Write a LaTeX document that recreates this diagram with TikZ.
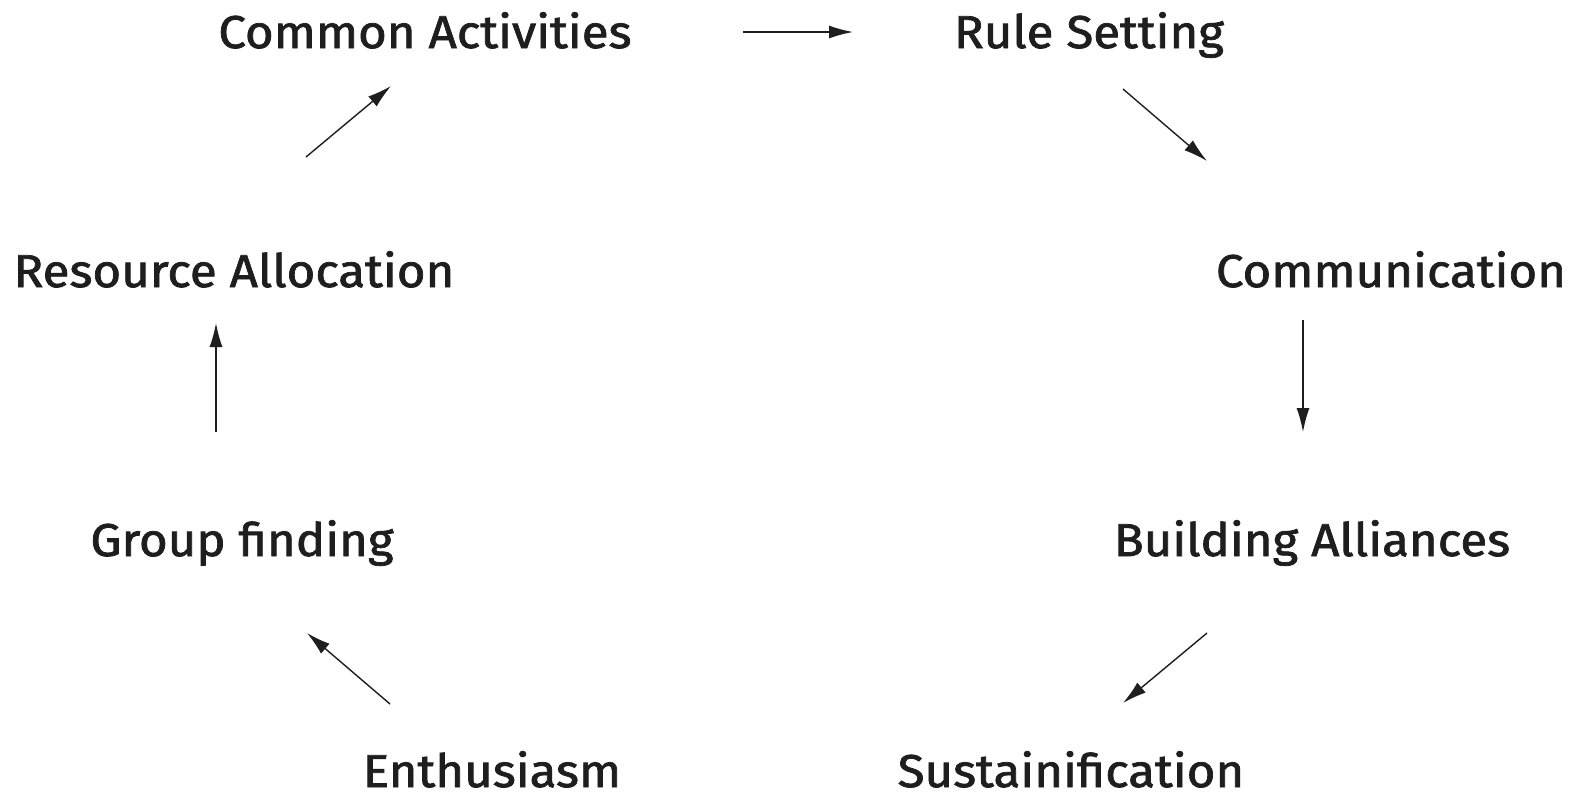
\documentclass[tikz,border=0pt]{standalone}
\usepackage{fontspec}
\setmainfont{Fira Sans}[FakeBold=1.6,FakeStretch=1.07]
\usetikzlibrary{arrows.meta}
\definecolor{ink}{HTML}{1E1E1E}
\begin{document}
\begin{tikzpicture}[x=0.5pt,y=-0.5pt,
  lbl/.style={anchor=base,inner sep=0pt,text=ink,font=\fontsize{23}{27}\selectfont},
  arr/.style={draw=ink,line width=0.7pt,-{Latex[length=12pt,width=6.5pt]}}]
\useasboundingbox[fill=white] (0,0) rectangle (1575,799);
\node[lbl] (common) at (425,48) {Common Activities};
\node[lbl] (rule) at (1089,48) {Rule Setting};
\node[lbl] (comm) at (1391,287) {Communication};
\node[lbl] (build) at (1312,556) {Building Alliances};
\node[lbl] (sust) at (1071,787) {Sustainification};
\node[lbl] (enth) at (492,787) {Enthusiasm};
\node[lbl] (group) at (242,556) {Group finding};
\node[lbl] (res) at (234,287) {Resource Allocation};
\draw[arr] ([shift={(318,-16)}]common.base) -- ([shift={(-236,-16)}]rule.base);
\draw[arr] ([shift={(34,41)}]rule.base) -- ([shift={(-184,-126)}]comm.base);
\draw[arr] ([shift={(-88,33)}]comm.base) -- ([shift={(-9,-124)}]build.base);
\draw[arr] ([shift={(-105,77)}]build.base) -- ([shift={(52,-84)}]sust.base);
\draw[arr] ([shift={(-102,-83)}]enth.base) -- ([shift={(65,77)}]group.base);
\draw[arr] ([shift={(-26,-124)}]group.base) -- ([shift={(-18,36)}]res.base);
\draw[arr] ([shift={(72,-130)}]res.base) -- ([shift={(-34,38)}]common.base);
\end{tikzpicture}
\end{document}
